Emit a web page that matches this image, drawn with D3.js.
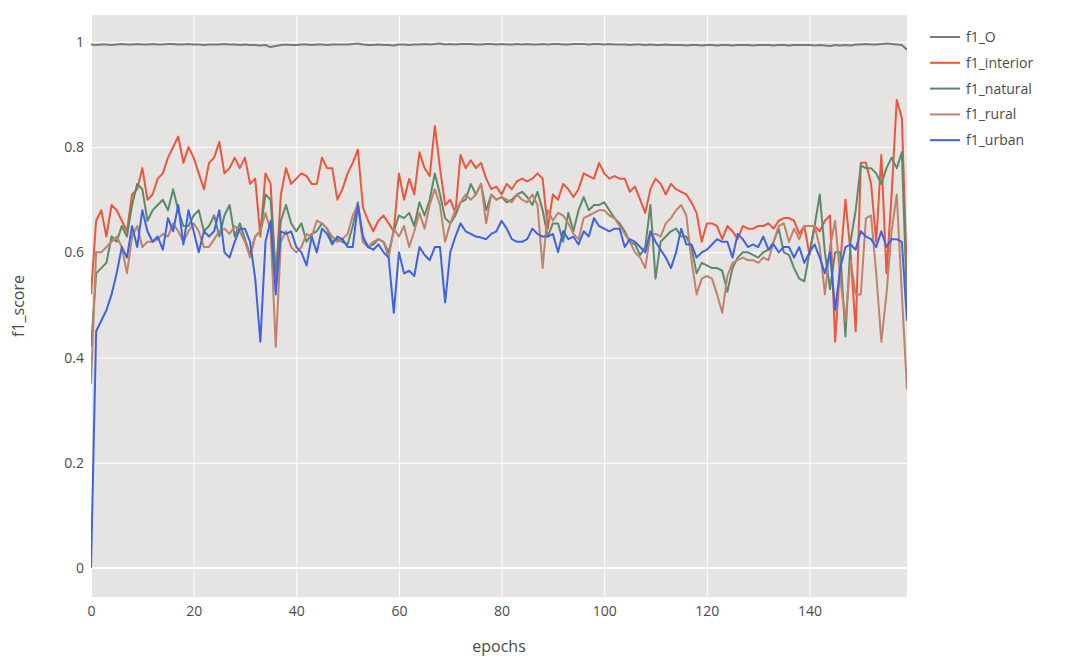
<!DOCTYPE html>
<html><head><meta charset="utf-8">
<script src="https://cdn.jsdelivr.net/npm/d3@7"></script>
<style>
html,body{margin:0;padding:0;background:#fff;}
svg{display:block;font-family:"Open Sans",sans-serif;}
</style></head>
<body><svg id="c" width="1069" height="657"></svg>
<script>
const epochs = d3.range(0,160);
const f1_O = [.995,.994,.995,.995,.994,.995,.996,.995,.995,.996,
.995,.995,.996,.995,.995,.996,.996,.995,.995,.996,
.995,.995,.994,.995,.995,.995,.996,.995,.995,.994,
.995,.994,.994,.993,.994,.990,.992,.994,.995,.994,
.994,.995,.995,.994,.995,.995,.994,.995,.995,.995,
.995,.996,.997,.995,.994,.994,.995,.994,.994,.993,
.995,.995,.994,.995,.995,.996,.995,.996,.997,.995,
.996,.995,.996,.996,.996,.995,.995,.996,.996,.995,
.996,.995,.995,.996,.995,.996,.995,.995,.996,.995,
.996,.996,.995,.995,.996,.996,.996,.995,.996,.996,
.995,.996,.995,.995,.995,.994,.995,.995,.994,.995,
.994,.994,.995,.994,.994,.994,.993,.994,.994,.993,
.994,.994,.993,.994,.994,.993,.994,.994,.994,.993,
.994,.994,.994,.993,.994,.994,.993,.994,.994,.994,
.994,.993,.994,.993,.992,.994,.993,.994,.993,.995,
.995,.996,.995,.995,.996,.997,.996,.995,.994,.985];
const f1_interior = [.52,.66,.68,.63,.69,.68,.66,.64,.71,.72,
.76,.70,.71,.74,.75,.78,.80,.82,.77,.80,
.78,.75,.72,.77,.78,.81,.75,.76,.78,.76,
.78,.73,.74,.63,.75,.73,.55,.71,.76,.73,
.74,.75,.745,.73,.73,.78,.76,.76,.70,.72,
.75,.77,.795,.685,.66,.64,.66,.67,.655,.64,
.75,.70,.74,.71,.79,.76,.745,.84,.76,.69,
.70,.675,.785,.76,.775,.76,.77,.74,.72,.725,
.71,.73,.72,.735,.74,.735,.74,.75,.74,.645,
.71,.70,.73,.72,.705,.72,.75,.745,.74,.77,
.75,.74,.745,.74,.74,.715,.725,.70,.675,.72,
.74,.73,.71,.73,.72,.715,.71,.695,.675,.62,
.655,.655,.65,.625,.65,.64,.625,.65,.645,.645,
.65,.65,.655,.645,.66,.665,.665,.66,.635,.65,
.595,.65,.64,.66,.67,.43,.58,.70,.60,.45,
.77,.77,.73,.62,.785,.56,.71,.89,.855,.55];
const f1_natural = [.42,.56,.57,.58,.63,.62,.65,.63,.69,.73,
.72,.66,.68,.69,.70,.68,.72,.68,.65,.65,
.67,.68,.64,.65,.67,.63,.67,.69,.63,.655,
.625,.595,.63,.64,.71,.70,.56,.66,.69,.655,
.64,.655,.62,.635,.64,.655,.645,.62,.625,.62,
.615,.65,.695,.62,.61,.615,.625,.62,.60,.64,
.67,.665,.675,.65,.695,.67,.70,.75,.71,.665,
.655,.67,.695,.70,.73,.71,.73,.68,.71,.70,
.705,.695,.70,.71,.715,.705,.69,.715,.68,.63,
.655,.655,.62,.675,.64,.68,.705,.68,.69,.69,
.695,.68,.665,.655,.64,.62,.615,.595,.61,.69,
.55,.62,.63,.64,.645,.63,.63,.61,.56,.58,
.575,.57,.57,.565,.525,.57,.59,.60,.60,.595,
.59,.60,.605,.62,.645,.60,.595,.57,.55,.545,
.60,.65,.71,.60,.53,.60,.60,.44,.62,.68,
.765,.76,.76,.75,.73,.76,.78,.76,.79,.50];
const f1_rural = [.35,.60,.60,.61,.62,.63,.61,.56,.63,.65,
.61,.62,.62,.625,.635,.63,.655,.64,.62,.64,
.655,.64,.61,.61,.625,.64,.645,.635,.65,.64,
.62,.59,.63,.64,.675,.64,.42,.62,.64,.61,
.60,.61,.635,.63,.66,.655,.645,.63,.62,.625,
.635,.67,.69,.62,.61,.62,.625,.62,.59,.645,
.63,.65,.61,.64,.675,.645,.69,.72,.69,.62,
.655,.68,.695,.71,.70,.71,.73,.655,.71,.70,
.705,.70,.695,.71,.70,.695,.71,.69,.57,.68,
.66,.675,.67,.655,.635,.625,.665,.67,.675,.68,
.68,.67,.665,.65,.635,.62,.60,.59,.57,.635,
.635,.63,.655,.665,.68,.69,.67,.585,.52,.55,
.555,.55,.52,.485,.555,.58,.585,.59,.585,.585,
.58,.59,.585,.62,.65,.655,.62,.645,.625,.65,
.65,.65,.61,.52,.61,.66,.55,.47,.585,.52,
.52,.665,.67,.56,.43,.52,.64,.71,.52,.34];
const f1_urban = [0,.45,.47,.49,.52,.56,.61,.59,.65,.61,
.68,.64,.62,.63,.605,.665,.64,.69,.615,.68,
.64,.60,.64,.63,.64,.68,.60,.59,.62,.645,
.645,.62,.55,.43,.62,.66,.52,.64,.635,.64,
.61,.60,.575,.63,.60,.645,.635,.615,.63,.625,
.61,.61,.69,.63,.61,.605,.615,.60,.59,.485,
.60,.56,.565,.555,.61,.595,.585,.61,.61,.505,
.60,.63,.655,.64,.635,.63,.628,.625,.635,.64,
.66,.645,.625,.62,.62,.625,.645,.635,.63,.63,
.635,.60,.64,.625,.63,.615,.64,.63,.665,.65,
.645,.64,.645,.645,.61,.625,.62,.61,.60,.64,
.62,.605,.59,.57,.60,.645,.615,.615,.59,.60,
.605,.615,.625,.62,.62,.59,.635,.625,.61,.615,
.61,.63,.605,.615,.60,.61,.61,.59,.61,.58,
.60,.615,.59,.56,.60,.49,.57,.61,.615,.605,
.64,.63,.625,.61,.64,.61,.625,.625,.62,.47];
const seriesNames = ["f1_O","f1_interior","f1_natural","f1_rural","f1_urban"];
const seriesValues = [f1_O,f1_interior,f1_natural,f1_rural,f1_urban];
const seriesColors = ["#7a7a78","#ef553b","#5b8a6a","#c0826a","#3e63e0"];
const yTicks = [0,0.2,0.4,0.6,0.8,1];
const xTicks = [0,20,40,60,80,100,120,140];

const svg = d3.select("#c");
const L=91,R=907,T=15,B=597;
const x = d3.scaleLinear().domain([0,159]).range([L,R]);
const y = d3.scaleLinear().domain([-0.055,1.051]).range([B,T]);

svg.append("rect").attr("x",L).attr("y",T).attr("width",R-L).attr("height",B-T).attr("fill","#e5e4e2");
svg.append("clipPath").attr("id","clip").append("rect").attr("x",L).attr("y",T).attr("width",R-L).attr("height",B-T);

const gy = svg.append("g").attr("transform",`translate(${L},0)`)
  .call(d3.axisLeft(y).tickValues(yTicks).tickFormat(d3.format("")).tickSize(-(R-L)).tickPadding(7));
gy.select(".domain").remove();
gy.selectAll("line").attr("stroke","#fff").attr("stroke-width",1);
gy.selectAll("text").attr("fill","#4a4a4a").style("font-size","14px").style("font-family","Open Sans");

const gx = svg.append("g").attr("transform",`translate(0,${B})`)
  .call(d3.axisBottom(x).tickValues(xTicks).tickSize(-(B-T)).tickPadding(9));
gx.select(".domain").remove();
gx.selectAll("line").attr("stroke","#fff").attr("stroke-width",1);
gx.selectAll("text").attr("fill","#4a4a4a").style("font-size","14px").style("font-family","Open Sans");

// zero line
svg.append("line").attr("x1",L).attr("x2",R).attr("y1",y(0)).attr("y2",y(0)).attr("stroke","#fff").attr("stroke-width",2);

const line = d3.line().x((d,i)=>x(epochs[i])).y(d=>y(d));
const gl = svg.append("g").attr("clip-path","url(#clip)");
seriesValues.forEach((vals,k)=>{
  gl.append("path").datum(vals).attr("d",line).attr("fill","none")
    .attr("stroke",seriesColors[k]).attr("stroke-width",2).attr("stroke-linejoin","round");
});

svg.append("text").attr("x",(L+R)/2).attr("y",652).attr("text-anchor","middle")
  .attr("fill","#4a4a4a").style("font-size","16px").text("epochs");
svg.append("text").attr("transform",`translate(24,${(T+B)/2}) rotate(-90)`).attr("text-anchor","middle")
  .attr("fill","#4a4a4a").style("font-size","16px").text("f1_score");

const lg = svg.append("g");
seriesNames.forEach((n,k)=>{
  const yy = 37 + k*25.8;
  lg.append("line").attr("x1",930).attr("x2",960).attr("y1",yy).attr("y2",yy)
    .attr("stroke",seriesColors[k]).attr("stroke-width",2);
  lg.append("text").attr("x",966).attr("y",yy).attr("dy","0.35em").attr("fill","#4a4a4a")
    .style("font-size","14px").text(n);
});
</script></body></html>
